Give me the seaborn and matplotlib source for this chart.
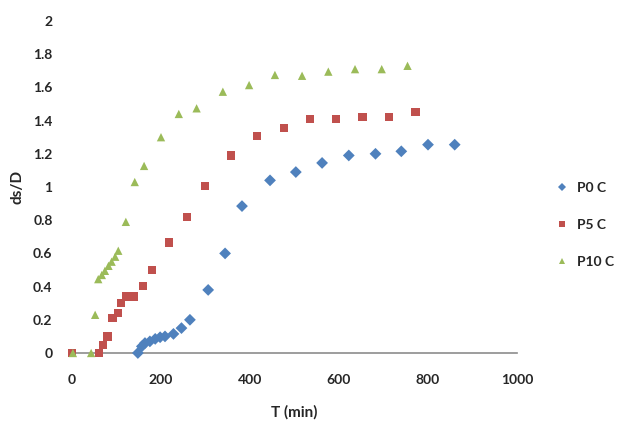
import numpy as np
import pandas as pd
import seaborn as sns
import matplotlib.pyplot as plt

# data
t_p0 = [148, 157, 164, 175, 187, 198, 209, 228, 246, 265, 306, 344, 382, 445, 503, 562, 622, 682, 740, 800, 860]
v_p0 = [0.0, 0.04, 0.06, 0.07, 0.085, 0.095, 0.10, 0.115, 0.15, 0.20, 0.38, 0.60, 0.885, 1.04, 1.09, 1.145, 1.19, 1.20, 1.215, 1.255, 1.255]

t_p5 = [0, 61, 69, 80, 91, 103, 110, 121, 139, 160, 180, 218, 259, 299, 357, 416, 477, 535, 593, 653, 713, 772]
v_p5 = [0.0, 0.0, 0.05, 0.10, 0.21, 0.24, 0.30, 0.34, 0.34, 0.405, 0.50, 0.665, 0.82, 1.008, 1.19, 1.307, 1.354, 1.41, 1.41, 1.42, 1.42, 1.45]

t_p10 = [2, 43, 52, 59, 67, 74, 82, 89, 97, 104, 121, 141, 162, 200, 240, 280, 339, 398, 456, 517, 576, 636, 696, 754]
v_p10 = [0.0, 0.0, 0.23, 0.445, 0.47, 0.495, 0.525, 0.55, 0.58, 0.616, 0.79, 1.03, 1.127, 1.30, 1.44, 1.474, 1.574, 1.614, 1.675, 1.67, 1.695, 1.71, 1.71, 1.73]

series = ["P0 C", "P5 C", "P10 C"]
x_ticks = [0, 200, 400, 600, 800, 1000]
y_ticks = [0, 0.2, 0.4, 0.6, 0.8, 1, 1.2, 1.4, 1.6, 1.8, 2]

df = pd.concat([
    pd.DataFrame({"T": t_p0, "v": v_p0, "s": series[0]}),
    pd.DataFrame({"T": t_p5, "v": v_p5, "s": series[1]}),
    pd.DataFrame({"T": t_p10, "v": v_p10, "s": series[2]}),
])

sns.set_style("white")
plt.rcParams['font.family'] = ['Lato', 'DejaVu Sans']
plt.rcParams['font.weight'] = 'bold'

fig = plt.figure(figsize=(6.18, 4.21), dpi=100)
ax = fig.add_axes([72 / 618, 1 - 353 / 421, 445 / 618, 332 / 421])

pal = {"P0 C": "#4F81BD", "P5 C": "#C0504D", "P10 C": "#9BBB59"}
mk = {"P0 C": "D", "P5 C": "s", "P10 C": "^"}
sns.scatterplot(data=df, x="T", y="v", hue="s", style="s", palette=pal, markers=mk,
                s=36, linewidth=0, ax=ax, clip_on=False, zorder=3)

ax.set_xlim(0, 1000)
ax.set_ylim(0, 2)
ax.set_xticks(x_ticks)
ax.set_yticks(y_ticks)
ax.set_xticklabels([str(x) for x in x_ticks])
ax.set_yticklabels(["%g" % y for y in y_ticks])

for sp in ["top", "right", "left"]:
    ax.spines[sp].set_visible(False)
ax.spines["bottom"].set_color("#8c8c8c")
ax.spines["bottom"].set_linewidth(1.2)
ax.tick_params(axis="x", direction="inout", length=6, color="#8c8c8c", width=1, labelsize=10, pad=12)
ax.tick_params(axis="y", direction="out", length=4, color="#a0a0a0", width=1, labelsize=10, pad=10)

ax.set_xlabel("T (min)", fontsize=11, fontweight="bold", labelpad=14)
ax.set_ylabel("ds/D", fontsize=11, fontweight="bold", labelpad=6)

ax.legend(title=None, frameon=False, fontsize=10, labelspacing=1.8, handletextpad=0.1,
          markerscale=0.7, loc="center left", bbox_to_anchor=(548 / 618, 1 - 225 / 421),
          bbox_transform=fig.transFigure, borderpad=0, borderaxespad=0)

fig.savefig("out.png", dpi=100)
